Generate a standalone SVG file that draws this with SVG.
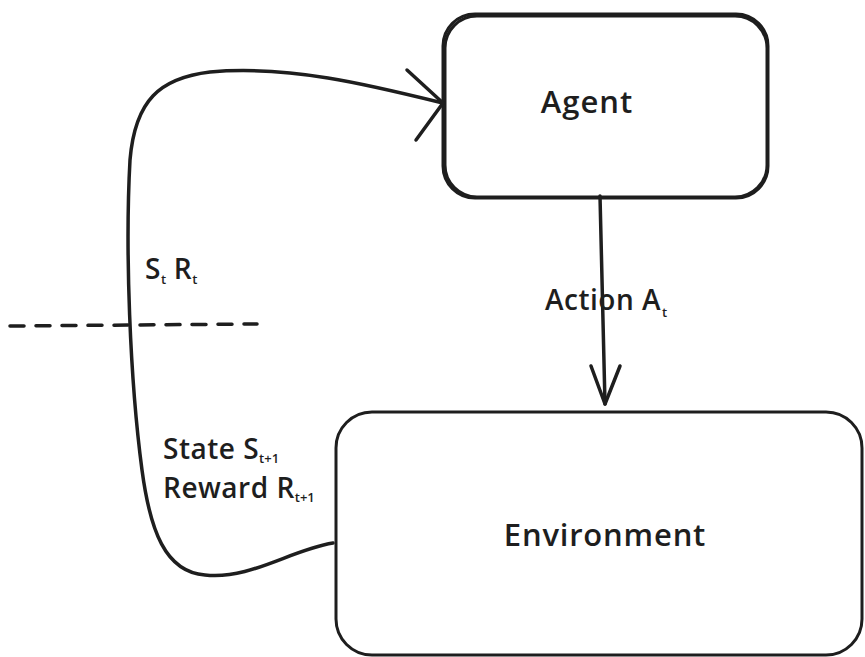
<svg xmlns="http://www.w3.org/2000/svg" width="865" height="657" viewBox="0 0 865 657">
<style>
.box{fill:none;stroke:#1e1e1e;stroke-width:3}
.ln{fill:none;stroke:#1e1e1e;stroke-width:3.5;stroke-linecap:round;stroke-linejoin:round}
.t{font-family:"Open Sans","Liberation Sans",sans-serif;fill:#1e1e1e;font-weight:600}
.lbl{font-size:28px;letter-spacing:0.5px}
.sub{font-size:13px;letter-spacing:0}
</style>
<rect width="865" height="657" fill="#ffffff"/>
<g id="agent">
<rect class="box" x="443" y="14" width="325" height="184" rx="32"/>
<rect class="box" x="445" y="16" width="322" height="181" rx="32" stroke-width="1.5"/>
<text class="t" x="587" y="113" font-size="31" letter-spacing="1" text-anchor="middle">Agent</text>
</g>
<g id="environment">
<rect class="box" x="336" y="412" width="526" height="243" rx="36"/>
<text class="t" x="605" y="546" font-size="31" letter-spacing="0.8" text-anchor="middle">Environment</text>
</g>
<g id="connectors">
<path class="ln" d="M 333,543 C 290,550 250,580 205,575 C 165,572 150,530 142,470 C 130,380 125,250 130,160 C 135,100 160,78 210,72 C 290,65 370,85 443,103"/>
<path class="ln" d="M 407,70 L 443,103 L 416,140"/>
<path class="ln" d="M 600,196 L 605,404"/>
<path class="ln" d="M 591,366 L 605,404 L 620,366"/>
<path class="ln" d="M 10,326 L 257,324" stroke-dasharray="14 12" stroke-linecap="butt" stroke-width="3"/>
</g>
<g id="labels">
<text class="t lbl" x="545" y="310" letter-spacing="2">Action A<tspan class="sub" dy="7" dx="1">t</tspan></text>
<text class="t lbl" x="145" y="279">S<tspan class="sub" dy="5">t</tspan><tspan dy="-5"> R</tspan><tspan class="sub" dy="5">t</tspan></text>
<text class="t lbl" x="163" y="459">State S<tspan class="sub" dy="4">t+1</tspan></text>
<text class="t lbl" x="163" y="498">Reward R<tspan class="sub" dy="4">t+1</tspan></text>
</g>
</svg>
